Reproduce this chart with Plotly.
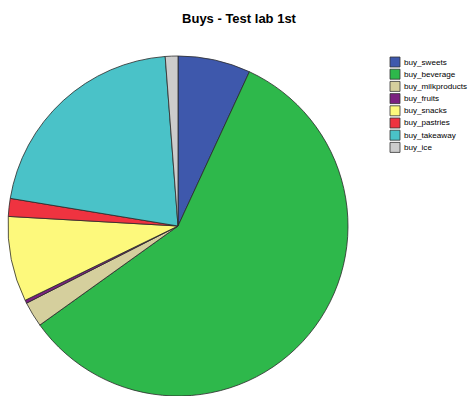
import plotly.graph_objects as go

# Share of purchases per category
categories = ["buy_sweets", "buy_beverage", "buy_milkproducts", "buy_fruits",
              "buy_snacks", "buy_pastries", "buy_takeaway", "buy_ice"]
values = [6.9, 58.2, 2.4, 0.3, 8.1, 1.7, 21.2, 1.2]
colors = ["#3E58AC", "#2EB84B", "#D5CF9D", "#7B2180",
          "#FDF97C", "#EF3340", "#4AC2C8", "#CCCCCC"]

W, H = 475, 396
MT, MB = 56, 0
plot_h = H - MT - MB


def px_to_paper_y(ypx):
    return (H - MB - ypx) / plot_h


fig = go.Figure(go.Pie(
    labels=categories,
    values=values,
    marker=dict(colors=colors, line=dict(color="#2a2a2a", width=0.8)),
    sort=False,
    direction="clockwise",
    rotation=0,
    textinfo="none",
    hoverinfo="label+percent",
    showlegend=False,
    domain=dict(x=[8 / W, 348 / W], y=[0, 1]),
))

# Compact legend: swatch + label per category
shapes, annotations = [], []
row0, step = 62.0, 12.2
for i, (name, col) in enumerate(zip(categories, colors)):
    yc = row0 + i * step
    shapes.append(dict(
        type="rect", xref="paper", yref="paper",
        x0=390 / W, x1=400 / W,
        y0=px_to_paper_y(yc + 5), y1=px_to_paper_y(yc - 5),
        fillcolor=col, line=dict(color="#333333", width=0.8),
    ))
    annotations.append(dict(
        text=name, xref="paper", yref="paper",
        x=402 / W, y=px_to_paper_y(yc),
        xanchor="left", yanchor="middle", showarrow=False,
        font=dict(family="Liberation Sans, Arial, sans-serif", size=8.1, color="#000000"),
    ))

fig.update_layout(
    width=W, height=H,
    margin=dict(l=0, r=0, t=MT, b=MB),
    paper_bgcolor="white",
    plot_bgcolor="white",
    title=dict(
        text="<b>Buys - Test lab 1st</b>",
        x=239 / W, xref="container", xanchor="center",
        y=1 - 18 / H, yref="container", yanchor="middle",
        font=dict(family="Liberation Sans, Arial, sans-serif", size=13, color="#000000"),
    ),
    shapes=shapes,
    annotations=annotations,
)

fig.write_html("out.html")
